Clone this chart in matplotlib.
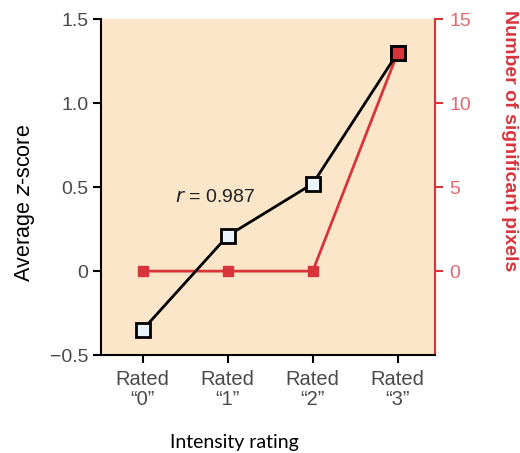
import matplotlib
matplotlib.use("Agg")
import matplotlib.pyplot as plt

# --- data ---
ratings = ["Rated\n\u201c0\u201d", "Rated\n\u201c1\u201d", "Rated\n\u201c2\u201d", "Rated\n\u201c3\u201d"]
z_score = [-0.35, 0.21, 0.52, 1.30]
n_pixels = [0, 0, 0, 13]

RED = "#d8343c"
BG = "#fbe6c9"
GREY = "#4a4a4a"

plt.rcParams["font.family"] = ["Liberation Sans", "DejaVu Sans"]

fig = plt.figure(figsize=(5.2, 4.53), dpi=100)
rect = [0.194, 0.216, 0.643, 0.742]
# peach background behind both axes
fig.patches.append(plt.Rectangle(rect[:2], rect[2], rect[3],
                                 transform=fig.transFigure, color=BG, zorder=-1))

ax = fig.add_axes(rect)
ax2 = ax.twinx()
ax.set_zorder(3)
ax2.set_zorder(2)
ax.patch.set_visible(False)
ax2.patch.set_visible(False)

x = list(range(len(ratings)))

ax2.plot(x, n_pixels, color=RED, lw=2, marker="s", ms=7.5,
         mfc=RED, mec=RED)
ax.plot(x, z_score, color="black", lw=2, marker="s", ms=9.5,
        mfc="#eaf2fa", mec="black", mew=2, zorder=3)
# top point is shared: red fill with black edge
ax.plot([x[-1]], [z_score[-1]], marker="s", ms=9.5, mfc=RED, mec="black",
        mew=2, ls="none", zorder=4)

ax.set_xlim(-0.49, 3.44)
ax.set_ylim(-0.5, 1.5)
ax2.set_ylim(-5, 15)

ax.set_yticks([-0.5, 0, 0.5, 1.0, 1.5])
ax.set_yticklabels(["\u22120.5", "0", "0.5", "1.0", "1.5"])
ax2.set_yticks([0, 5, 10, 15])
ax.set_xticks(x)
ax.set_xticklabels(ratings, linespacing=1.05)

ax.spines["top"].set_visible(False)
ax2.spines["top"].set_visible(False)
ax.spines["right"].set_visible(False)
ax2.spines["left"].set_visible(False)
ax2.spines["bottom"].set_visible(False)
ax2.spines["right"].set_color(RED)
ax2.spines["right"].set_linewidth(1.5)
ax.spines["left"].set_linewidth(1.5)
ax.spines["bottom"].set_linewidth(1.5)

ax.tick_params(axis="y", direction="out", length=6, width=1.5, labelsize=14,
               labelcolor=GREY, pad=3)
ax.tick_params(axis="x", direction="out", length=6, width=1.5, labelsize=14.5,
               labelcolor=GREY, pad=5)
ax2.tick_params(axis="y", direction="out", length=6, width=1.5, colors=RED,
                labelsize=14, pad=4)
for lbl in ax2.get_yticklabels():
    lbl.set_color("#e06a6f")

ax.set_ylabel("Average $z$-score", fontsize=15.5, color="black", va="center")
ax.yaxis.set_label_coords(-0.228, 0.452)
ax2.set_ylabel("Number of significant pixels", fontsize=14, color=RED,
               rotation=270, fontweight="bold", va="center")
ax2.yaxis.set_label_coords(1.222, 0.637)
ax.set_xlabel("Intensity rating", fontsize=14, color="black",
              family=["Lato", "DejaVu Sans"], va="center")
ax.xaxis.set_label_coords(0.40, -0.259)

ax.text(0.85, 0.44, "$r$ = 0.987", fontsize=14, ha="center", va="center",
        color="#222222")

plt.savefig("out.png", dpi=100)
